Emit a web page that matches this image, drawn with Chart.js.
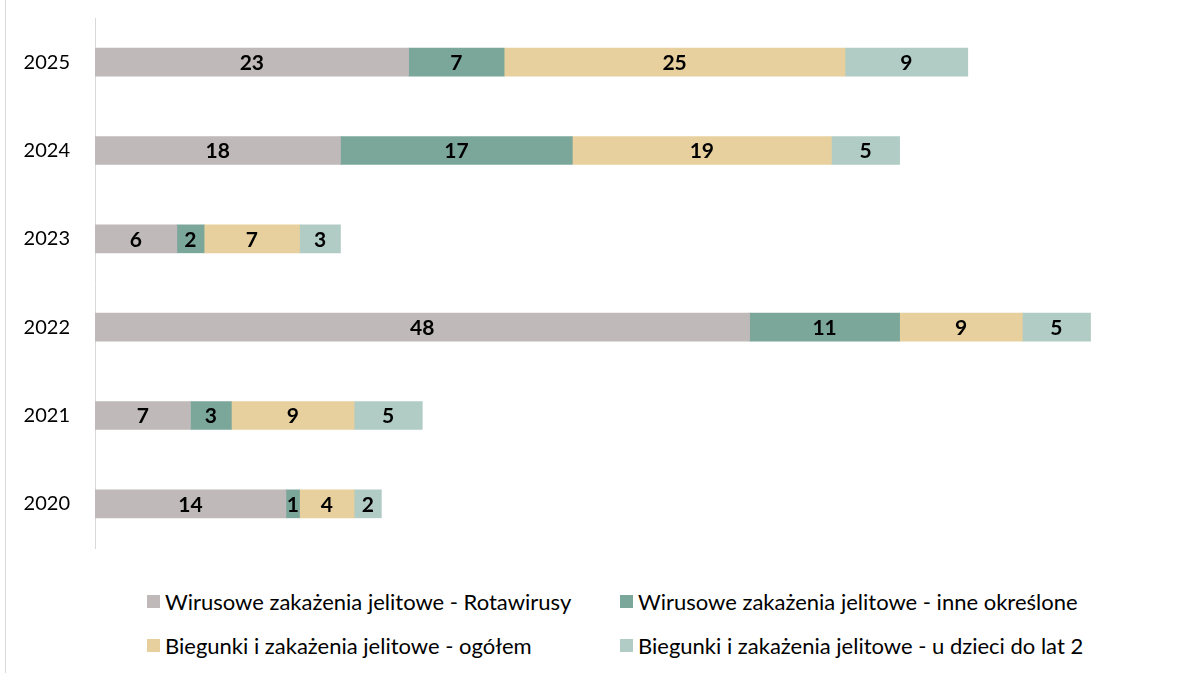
<!DOCTYPE html>
<html>
<head>
<meta charset="utf-8">
<script src="https://cdn.jsdelivr.net/npm/chart.js@4.4.1/dist/chart.umd.min.js"></script>
<style>
  html, body { margin: 0; padding: 0; background: #fff; }
  #wrap { position: relative; width: 1204px; height: 673px; overflow: hidden; font-family: Lato, "Open Sans", sans-serif; }
  #frame { position: absolute; left: 5px; top: 0; width: 1px; height: 673px; background: #d9d9d9; }
  #chartBox { position: absolute; left: 0; top: -11px; width: 1204px; height: 588px; }
  #legend { position: absolute; left: 147px; top: 589px; display: grid; grid-template-columns: 473px 480px; row-gap: 20px; }
  .item { display: flex; align-items: center; font-size: 22px; color: #000; height: 24px; white-space: nowrap; }
  .box { width: 13px; height: 13px; margin-right: 5px; flex: none; }
</style>
</head>
<body>
<div id="wrap">
  <div id="frame"></div>
  <div id="chartBox"><canvas id="chart"></canvas></div>
  <div id="legend"></div>
</div>
<script>
const years = ["2025", "2024", "2023", "2022", "2021", "2020"];
const rotawirusy = [23, 18, 6, 48, 7, 14];
const inneOkreslone = [7, 17, 2, 11, 3, 1];
const ogolem = [25, 19, 7, 9, 9, 4];
const uDzieci = [9, 5, 3, 5, 5, 2];

const seriesNames = [
  "Wirusowe zakażenia jelitowe - Rotawirusy",
  "Wirusowe zakażenia jelitowe - inne określone",
  "Biegunki i zakażenia jelitowe - ogółem",
  "Biegunki i zakażenia jelitowe - u dzieci do lat 2"
];
const seriesColors = ["#bfb9b9", "#7ba79b", "#e8d09e", "#b1ccc4"];
const seriesData = [rotawirusy, inneOkreslone, ogolem, uDzieci];

// values drawn in the middle of each segment
const barLabels = {
  id: "barLabels",
  afterDatasetsDraw(chart) {
    const ctx = chart.ctx;
    ctx.save();
    ctx.font = "bold 21px Lato, 'Open Sans', sans-serif";
    ctx.fillStyle = "#000";
    ctx.textAlign = "center";
    ctx.textBaseline = "middle";
    chart.data.datasets.forEach((ds, i) => {
      chart.getDatasetMeta(i).data.forEach((bar, j) => {
        const x = (bar.x + bar.base) / 2;
        ctx.fillText(ds.data[j], x, bar.y + 1);
      });
    });
    ctx.restore();
  }
};

new Chart(document.getElementById("chart"), {
  type: "bar",
  data: {
    labels: years,
    datasets: seriesData.map((d, i) => ({
      label: seriesNames[i],
      data: d,
      backgroundColor: seriesColors[i],
      borderWidth: 0,
      barThickness: 28
    }))
  },
  options: {
    indexAxis: "y",
    responsive: true,
    maintainAspectRatio: false,
    animation: false,
    layout: { padding: { top: 17, bottom: 12, left: 0, right: 18 } },
    plugins: {
      legend: { display: false },
      tooltip: { enabled: false }
    },
    scales: {
      x: {
        stacked: true,
        display: false,
        min: 0,
        max: 80
      },
      y: {
        stacked: true,
        grid: { display: false },
        border: { display: true, color: "#d9d9d9", width: 1 },
        ticks: {
          color: "#000",
          padding: 17,
          font: { family: "Lato, 'Open Sans', sans-serif", size: 20 }
        },
        afterFit(scale) { scale.width = 95; }
      }
    }
  },
  plugins: [barLabels]
});

const legend = document.getElementById("legend");
[0, 1, 2, 3].forEach(i => {
  const item = document.createElement("div");
  item.className = "item";
  item.innerHTML = '<span class="box" style="background:' + seriesColors[i] + '"></span>' + seriesNames[i];
  legend.appendChild(item);
});
</script>
</body>
</html>
